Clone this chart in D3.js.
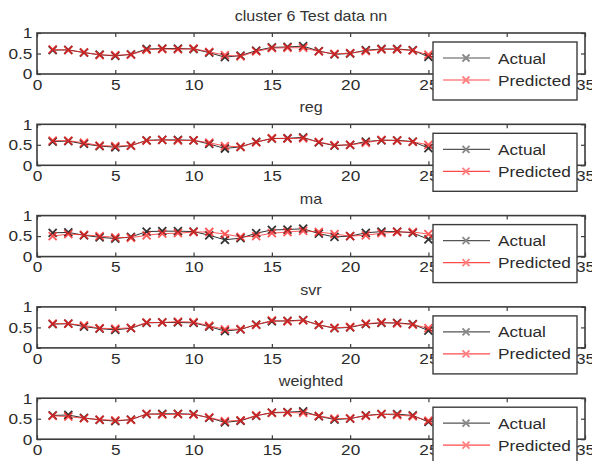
<!DOCTYPE html>
<html>
<head>
<meta charset="utf-8">
<script src="https://cdn.jsdelivr.net/npm/d3@7"></script>
<style>
  html, body { margin: 0; padding: 0; background: #fff; }
  svg { display: block; font-family: "Liberation Sans", Arial, sans-serif; }
</style>
</head>
<body>
<div id="chart"></div>
<script>
// ---- data ----
const xValues = d3.range(1, 27);
const actual = [0.58,0.59,0.52,0.47,0.44,0.48,0.61,0.62,0.62,0.61,0.52,0.41,0.45,0.57,0.65,0.66,0.68,0.56,0.48,0.50,0.58,0.61,0.61,0.58,0.42,0.45];
const predNN = [0.60,0.58,0.53,0.46,0.46,0.47,0.59,0.61,0.60,0.62,0.54,0.46,0.43,0.55,0.63,0.64,0.64,0.55,0.49,0.51,0.56,0.60,0.60,0.57,0.47,0.50];
const predReg = [0.60,0.60,0.55,0.48,0.47,0.48,0.60,0.62,0.60,0.61,0.55,0.47,0.45,0.56,0.66,0.65,0.66,0.57,0.49,0.50,0.55,0.62,0.60,0.57,0.50,0.50];
const predMa = [0.50,0.55,0.53,0.50,0.47,0.46,0.52,0.56,0.57,0.60,0.60,0.55,0.48,0.50,0.57,0.60,0.63,0.60,0.55,0.50,0.52,0.57,0.60,0.60,0.55,0.48];
const predSvr = [0.59,0.59,0.55,0.48,0.47,0.49,0.62,0.62,0.64,0.63,0.54,0.45,0.46,0.56,0.67,0.65,0.67,0.56,0.49,0.51,0.59,0.62,0.60,0.57,0.48,0.47];
const predWeighted = [0.57,0.55,0.51,0.48,0.46,0.47,0.62,0.60,0.61,0.60,0.53,0.44,0.46,0.58,0.64,0.65,0.64,0.57,0.50,0.51,0.57,0.61,0.59,0.56,0.45,0.46];

const titles = ["cluster 6 Test data nn", "reg", "ma", "svr", "weighted"];
const predictions = [predNN, predReg, predMa, predSvr, predWeighted];
const xTicks = [0, 5, 10, 15, 20, 25, 30, 35];
const yTicks = [0, 0.5, 1];
const legendLabels = ["Actual", "Predicted"];

// ---- layout ----
const width = 592, height = 461;
const axLeft = 37, axRight = 585;
const firstTop = 33, step = 91.3, axH = 41;
const stretch = 1.15; // the picture's text is a bit wide
const axisColor = "#3c3c3c";
const actualColor = "#1e1e1e";
const predColor = "#ff2020";

const svg = d3.select("#chart").append("svg")
    .attr("width", width)
    .attr("height", height);

const x = d3.scaleLinear().domain([0, 35]).range([axLeft, axRight]);

function drawX(g, cx, cy, color, s = 4) {
    // small "x" marker
    g.append("path")
        .attr("d", `M${cx - s},${cy - s}L${cx + s},${cy + s}M${cx - s},${cy + s}L${cx + s},${cy - s}`)
        .attr("stroke", color)
        .attr("stroke-width", 1.8)
        .attr("fill", "none");
}

function styleAxis(g) {
    g.select(".domain").remove();
    g.selectAll("line").attr("stroke", axisColor).attr("stroke-width", 1.2);
    g.selectAll("text")
        .attr("fill", "#2b2b2b")
        .style("font-size", "15px")
        .attr("transform", `scale(${stretch},1)`);
}

titles.forEach((title, i) => {
    const top = firstTop + i * step;
    const y = d3.scaleLinear().domain([0, 1]).range([top + axH, top]);
    const g = svg.append("g");

    // title
    g.append("text")
        .attr("transform", `translate(${(axLeft + axRight) / 2},${top - 12}) scale(${stretch},1)`)
        .attr("text-anchor", "middle")
        .attr("fill", "#333")
        .style("font-size", "14px")
        .text(title);

    // axes (ticks pointing inward, MATLAB style)
    g.append("g")
        .attr("transform", `translate(0,${top + axH})`)
        .call(d3.axisBottom(x).tickValues(xTicks).tickSize(-4).tickPadding(5).tickFormat(d3.format("d")))
        .call(styleAxis);
    g.append("g")
        .attr("transform", `translate(0,${top})`)
        .call(d3.axisTop(x).tickValues(xTicks).tickSize(-4).tickFormat(""))
        .call(styleAxis);
    g.append("g")
        .attr("transform", `translate(${axLeft},0)`)
        .call(d3.axisLeft(y).tickValues(yTicks).tickSize(-4).tickPadding(4).tickFormat(d => d === 0.5 ? "0.5" : d3.format("d")(d)))
        .call(styleAxis);
    g.append("g")
        .attr("transform", `translate(${axRight},0)`)
        .call(d3.axisRight(y).tickValues(yTicks).tickSize(-4).tickFormat(""))
        .call(styleAxis);

    g.append("rect")
        .attr("x", axLeft).attr("y", top)
        .attr("width", axRight - axLeft).attr("height", axH)
        .attr("fill", "none")
        .attr("stroke", axisColor)
        .attr("stroke-width", 1.6);

    // series
    const line = d3.line().x((d, k) => x(xValues[k])).y(d => y(d));
    const series = [
        { values: actual, color: actualColor, opacity: 0.9 },
        { values: predictions[i], color: predColor, opacity: 0.75 }
    ];
    series.forEach(s => {
        const sg = g.append("g").attr("opacity", s.opacity);
        sg.append("path")
            .datum(s.values)
            .attr("d", line)
            .attr("fill", "none")
            .attr("stroke", s.color)
            .attr("stroke-width", 1);
        s.values.forEach((v, k) => drawX(sg, x(xValues[k]), y(v), s.color));
    });

    // legend
    const lx = 433, ly = top + 9, lw = 144, lh = 58;
    const lg = g.append("g");
    lg.append("rect")
        .attr("x", lx).attr("y", ly)
        .attr("width", lw).attr("height", lh)
        .attr("fill", "#fff")
        .attr("stroke", axisColor)
        .attr("stroke-width", 1.4);
    legendLabels.forEach((lab, k) => {
        const cy = ly + 16 + k * 22;
        const col = k === 0 ? "#555" : "#ff4a4a";
        lg.append("line")
            .attr("x1", lx + 10).attr("x2", lx + 57)
            .attr("y1", cy).attr("y2", cy)
            .attr("stroke", col).attr("stroke-width", 1.2);
        drawX(lg, lx + 33, cy, k === 0 ? "#888" : "#ff8080", 3.5);
        lg.append("text")
            .attr("transform", `translate(${lx + 65},${cy + 5.5}) scale(${stretch},1)`)
            .attr("fill", "#2b2b2b")
            .style("font-size", "15px")
            .text(lab);
    });
});
</script>
</body>
</html>
